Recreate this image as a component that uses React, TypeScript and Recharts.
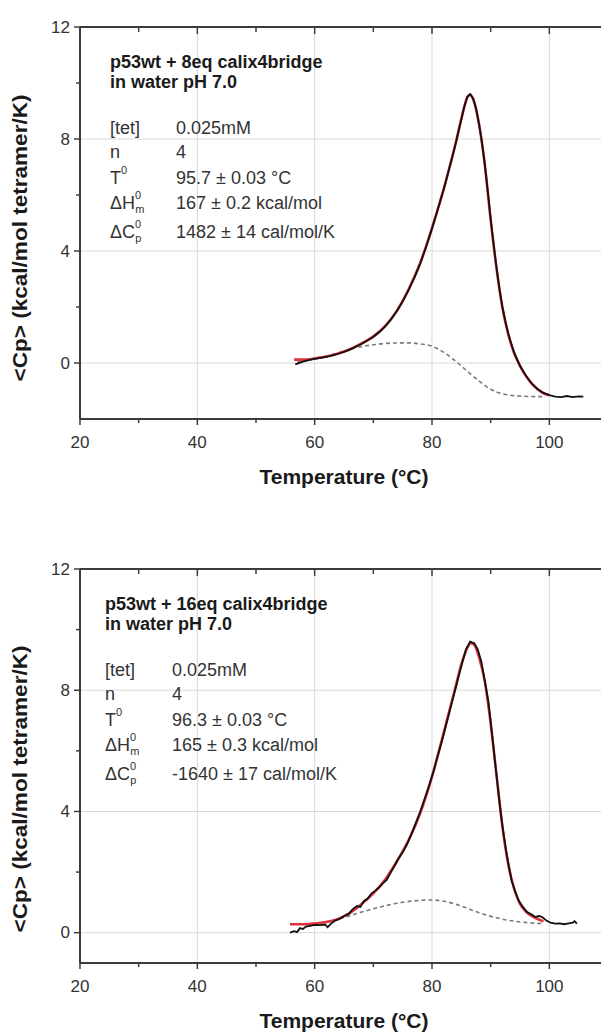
import { LineChart, Line, XAxis, YAxis, CartesianGrid } from "recharts";

const FONT = "'Liberation Sans', Arial, Helvetica, sans-serif";
const AXIS = "#3c3c3c";
const TXT = "#333";

// axis ticks: majors every 20 / 4, minors in between
const xTicks = [20, 30, 40, 50, 60, 70, 80, 90, 100, 110];
const yTicks = [0, 2, 4, 6, 8, 10, 12];
const gridX = [40, 60, 80, 100];
const gridY = [0, 4, 8];

// ---- panel 1: p53wt + 8eq calix4bridge ----
const p1DataT = [56.7, 58, 59, 60, 61, 62, 63, 64, 65, 66, 67, 68, 69, 70, 71, 72, 73, 74, 75, 76, 77, 78, 79, 80, 81, 82, 83, 84, 85, 85.5, 86, 86.5, 87, 87.5, 88, 88.5, 89, 89.5, 90, 90.5, 91, 91.5, 92, 92.5, 93, 93.5, 94, 95, 96, 97, 98, 99, 100, 101, 102, 103, 104, 105, 105.8];
const p1DataCp = [-0.05, 0.05, 0.1, 0.15, 0.18, 0.22, 0.27, 0.33, 0.4, 0.48, 0.58, 0.68, 0.8, 0.93, 1.1, 1.3, 1.55, 1.85, 2.2, 2.6, 3.05, 3.55, 4.15, 4.8, 5.5, 6.2, 7.0, 7.8, 8.7, 9.15, 9.5, 9.6, 9.45, 9.1, 8.55, 7.9, 7.1, 6.15, 5.15, 4.25, 3.4, 2.65, 2.0, 1.5, 1.05, 0.7, 0.37, -0.1, -0.45, -0.73, -0.93, -1.07, -1.15, -1.2, -1.22, -1.18, -1.22, -1.19, -1.2];
const p1FitT = [56.5, 58, 60, 62, 64, 66, 68, 70, 72, 74, 76, 78, 80, 82, 84, 85, 86, 86.5, 87, 88, 89, 90, 91, 92, 93, 94, 95, 96, 97, 98, 99, 100];
const p1FitCp = [0.12, 0.12, 0.16, 0.23, 0.34, 0.49, 0.7, 0.95, 1.32, 1.86, 2.62, 3.58, 4.82, 6.22, 7.82, 8.72, 9.48, 9.58, 9.44, 8.55, 7.08, 5.12, 3.38, 1.98, 1.02, 0.36, -0.1, -0.46, -0.74, -0.94, -1.08, -1.15];
const p1BaseT = [57, 60, 63, 65, 67, 70, 73, 76, 78, 80, 82, 84, 86, 88, 90, 92, 95, 98, 99];
const p1BaseCp = [0.02, 0.17, 0.3, 0.42, 0.54, 0.65, 0.71, 0.72, 0.68, 0.6, 0.38, 0.07, -0.29, -0.64, -0.94, -1.1, -1.18, -1.2, -1.2];

// ---- panel 2: p53wt + 16eq calix4bridge ----
const p2DataT = [55.8, 56.5, 57, 57.5, 58, 58.5, 59, 60, 61, 61.8, 62.2, 62.8, 63.5, 64.2, 65, 65.8, 66.5, 67.2, 67.8, 68.4, 69, 69.7, 70.3, 71, 71.6, 72.3, 73, 73.6, 74.3, 75, 75.7, 76.5, 77.2, 78, 78.8, 79.5, 80.3, 81, 81.8, 82.6, 83.4, 84.2, 85, 85.8, 86.5, 87.2, 87.8, 88.4, 89, 89.6, 90.1, 90.6, 91.1, 91.6, 92.1, 92.6, 93.1, 93.6, 94.2, 94.8, 95.5, 96.2, 97, 97.6, 98.3, 98.9, 99.5, 100.2, 101, 101.8, 102.5, 103.3, 104, 104.3, 104.7];
const p2DataCp = [0.0, 0.05, 0.02, 0.15, 0.12, 0.2, 0.22, 0.26, 0.25, 0.27, 0.18, 0.3, 0.4, 0.45, 0.55, 0.62, 0.78, 0.88, 0.85, 1.05, 1.12, 1.3, 1.38, 1.5, 1.62, 1.75, 2.0, 2.2, 2.45, 2.65, 2.9, 3.25, 3.6, 4.0, 4.45, 4.85, 5.35, 5.85, 6.4, 7.0, 7.6, 8.2, 8.8, 9.35, 9.6, 9.55, 9.35, 8.95, 8.3, 7.65, 6.8, 5.9, 5.0, 4.15, 3.4, 2.75, 2.2, 1.7, 1.35, 1.05, 0.85, 0.68, 0.6, 0.52, 0.55, 0.5, 0.4, 0.33, 0.3, 0.31, 0.28, 0.31, 0.33, 0.38, 0.3];
const p2FitT = [55.8, 58, 60, 62, 64, 66, 68, 70, 72, 74, 76, 78, 80, 82, 84, 85, 86, 86.6, 87.2, 88, 89, 90, 91, 92, 93, 94, 95, 96, 97, 98, 99];
const p2FitCp = [0.28, 0.28, 0.3, 0.35, 0.45, 0.65, 0.95, 1.3, 1.75, 2.35, 3.05, 3.95, 5.15, 6.6, 8.1, 8.85, 9.4, 9.55, 9.5, 9.1, 8.3, 6.9, 5.2, 3.5, 2.25, 1.45, 0.95, 0.7, 0.55, 0.45, 0.38];
const p2BaseT = [56, 60, 63, 65.5, 68, 71, 74, 77, 80, 82.5, 85, 88, 91, 94, 97, 99];
const p2BaseCp = [0.28, 0.3, 0.4, 0.53, 0.68, 0.84, 0.97, 1.05, 1.08, 1.02, 0.88, 0.66, 0.49, 0.38, 0.32, 0.3];

// annotation text
const p1Title = ["p53wt + 8eq calix4bridge", "in water pH 7.0"];
const p2Title = ["p53wt + 16eq calix4bridge", "in water pH 7.0"];
const rowLabels = [
  { label: "[tet]" },
  { label: "n" },
  { label: "T", sup: "0" },
  { label: "\u0394H", sup: "0", sub: "m" },
  { label: "\u0394C", sup: "0", sub: "p" },
];
const p1Values = ["0.025mM", "4", "95.7 \u00b1 0.03 \u00b0C", "167 \u00b1 0.2 kcal/mol", "1482 \u00b1 14 cal/mol/K"];
const p2Values = ["0.025mM", "4", "96.3 \u00b1 0.03 \u00b0C", "165 \u00b1 0.3 kcal/mol", "-1640 \u00b1 17 cal/mol/K"];

const pts = (t: number[], cp: number[]) => t.map((v, i) => ({ t: v, cp: cp[i] }));

const CHART_W = 618;
const CHART_H = 492;
const PLOT_L = 80;
const PLOT_R = 608;

const BottomTick = ({ x, y, payload }: any) => {
  const major = payload.value % 20 === 0;
  return (
    <g>
      <line x1={x} y1={y} x2={x} y2={y + (major ? 6 : 4)} stroke={AXIS} strokeWidth={1.5} />
      {major && payload.value <= 100 && (
        <text x={x} y={y + 23} textAnchor="middle" dominantBaseline="central" fontSize={17} fill={TXT} fontFamily={FONT}>
          {payload.value}
        </text>
      )}
    </g>
  );
};

const TopTick = ({ x, y, payload }: any) => {
  const major = payload.value % 20 === 0;
  return <line x1={x} y1={y} x2={x} y2={y + (major ? 7 : 5)} stroke={AXIS} strokeWidth={1.5} />;
};

const LeftTick = ({ x, y, payload }: any) => {
  const major = payload.value % 4 === 0;
  return (
    <g>
      <line x1={x} y1={y} x2={x - (major ? 6 : 4)} y2={y} stroke={AXIS} strokeWidth={1.5} />
      {major && (
        <text x={x - 10} y={y} textAnchor="end" dominantBaseline="central" fontSize={17} fill={TXT} fontFamily={FONT}>
          {payload.value}
        </text>
      )}
    </g>
  );
};

const RightTick = ({ x, y, payload }: any) => {
  const major = payload.value % 4 === 0;
  return <line x1={x} y1={y} x2={x - (major ? 7 : 5)} y2={y} stroke={AXIS} strokeWidth={1.5} />;
};

interface PanelProps {
  top: number;
  yMin: number;
  marginBottom: number;
  data: { t: number; cp: number }[];
  fit: { t: number; cp: number }[];
  base: { t: number; cp: number }[];
  title: string[];
  values: string[];
  labelX: number;
  valueX: number;
  yLabelCy: number;
  xLabelY: number;
}

const titleY = [62, 82];
const rowY = [128, 152, 178, 203, 232];

function Panel(p: PanelProps) {
  return (
    <LineChart
      width={CHART_W}
      height={CHART_H}
      margin={{ top: 22, right: 0, bottom: p.marginBottom, left: 20 }}
      style={{ position: "absolute", left: 0, top: p.top }}
    >
      <CartesianGrid stroke="#d8d8d8" strokeWidth={1} horizontalValues={gridY} verticalValues={gridX} />
      <XAxis
        dataKey="t"
        type="number"
        domain={[20, 110]}
        ticks={xTicks}
        interval={0}
        allowDataOverflow
        height={40}
        tickSize={0}
        tickMargin={0}
        tick={<BottomTick />}
        axisLine={{ stroke: AXIS, strokeWidth: 2 }}
        tickLine={false}
      />
      <XAxis
        xAxisId="top"
        orientation="top"
        dataKey="t"
        type="number"
        domain={[20, 110]}
        ticks={xTicks}
        interval={0}
        allowDataOverflow
        height={5}
        tickSize={0}
        tickMargin={0}
        tick={<TopTick />}
        axisLine={{ stroke: AXIS, strokeWidth: 2 }}
        tickLine={false}
      />
      <YAxis
        type="number"
        domain={[p.yMin, 12]}
        ticks={yTicks}
        interval={0}
        allowDataOverflow
        width={60}
        tickSize={0}
        tickMargin={0}
        tick={<LeftTick />}
        axisLine={{ stroke: AXIS, strokeWidth: 2 }}
        tickLine={false}
      />
      <YAxis
        yAxisId="right"
        orientation="right"
        type="number"
        domain={[p.yMin, 12]}
        ticks={yTicks}
        interval={0}
        allowDataOverflow
        width={10}
        tickSize={0}
        tickMargin={0}
        tick={<RightTick />}
        axisLine={{ stroke: AXIS, strokeWidth: 2 }}
        tickLine={false}
      />
      <Line data={p.base} dataKey="cp" type="monotone" stroke="#7a7a7a" strokeWidth={1.6} strokeDasharray="4 3" dot={false} isAnimationActive={false} />
      <Line data={p.fit} dataKey="cp" type="monotone" stroke="#e0303c" strokeWidth={2.6} dot={false} isAnimationActive={false} />
      <Line data={p.data} dataKey="cp" type="linear" stroke="#111" strokeWidth={1.8} dot={false} isAnimationActive={false} />

      <g fontFamily={FONT}>
        {p.title.map((s, i) => (
          <text key={s} x={p.labelX} y={titleY[i]} dominantBaseline="central" fontSize={18} fontWeight="bold" fill="#1a1a1a">
            {s}
          </text>
        ))}
        {rowLabels.map((r, i) => (
          <text key={i} x={p.labelX} y={rowY[i]} dominantBaseline="central" fontSize={18} fill={TXT}>
            {r.label}
            {r.sup && <tspan dy={-8} fontSize={11}>{r.sup}</tspan>}
            {r.sub && <tspan dx={-6} dy={14} fontSize={11}>{r.sub}</tspan>}
          </text>
        ))}
        {p.values.map((v, i) => (
          <text key={v} x={p.valueX} y={rowY[i]} dominantBaseline="central" fontSize={18} fill={TXT}>
            {v}
          </text>
        ))}
        <text
          x={(PLOT_L + PLOT_R) / 2}
          y={p.xLabelY}
          textAnchor="middle"
          dominantBaseline="central"
          fontSize={21}
          fontWeight="bold"
          fill="#1a1a1a"
        >
          Temperature (°C)
        </text>
        <text
          x={20}
          y={p.yLabelCy}
          transform={`rotate(-90, 20, ${p.yLabelCy})`}
          textAnchor="middle"
          dominantBaseline="central"
          fontSize={20}
          fontWeight="bold"
          fill="#1a1a1a"
          textLength={287}
          lengthAdjust="spacingAndGlyphs"
        >
          {"<Cp> (kcal/mol tetramer/K)"}
        </text>
      </g>
    </LineChart>
  );
}

export default function App() {
  return (
    <div style={{ position: "absolute", left: 0, top: 0, width: 601, height: 1034, overflow: "hidden", background: "#fff" }}>
      <Panel
        top={0}
        yMin={-2}
        marginBottom={33}
        data={pts(p1DataT, p1DataCp)}
        fit={pts(p1FitT, p1FitCp)}
        base={pts(p1BaseT, p1BaseCp)}
        title={p1Title}
        values={p1Values}
        labelX={110}
        valueX={176}
        yLabelCy={238}
        xLabelY={476}
      />
      <Panel
        top={542}
        yMin={-1}
        marginBottom={31}
        data={pts(p2DataT, p2DataCp)}
        fit={pts(p2FitT, p2FitCp)}
        base={pts(p2BaseT, p2BaseCp)}
        title={p2Title}
        values={p2Values}
        labelX={105}
        valueX={172}
        yLabelCy={247}
        xLabelY={478}
      />
    </div>
  );
}
